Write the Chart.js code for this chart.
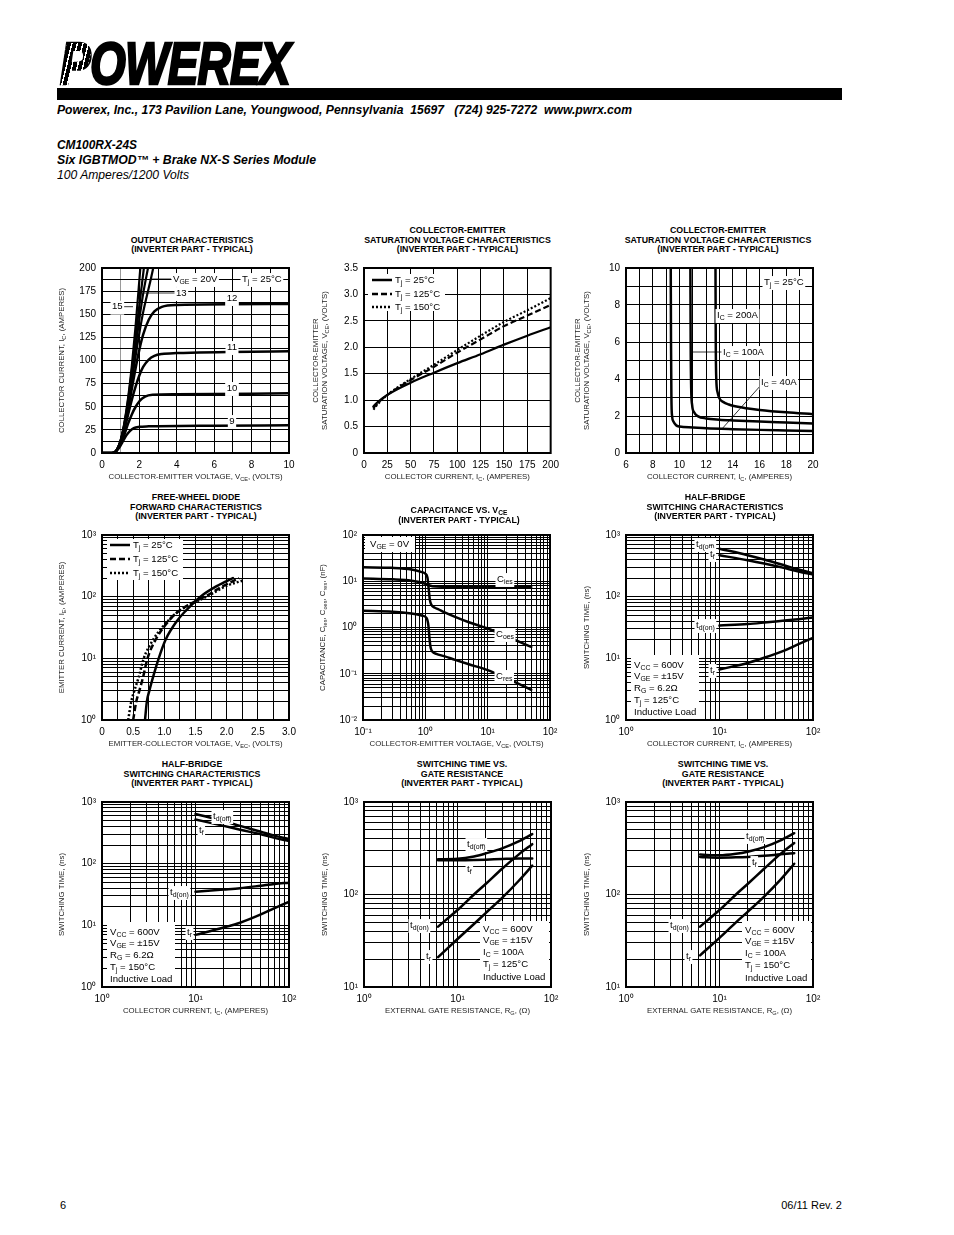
<!DOCTYPE html>
<html>
<head>
<meta charset="utf-8">
<script src="https://cdn.jsdelivr.net/npm/chart.js@4.4.0/dist/chart.umd.min.js"></script>
<style>
body{margin:0;width:954px;height:1235px;background:#fff;position:relative;overflow:hidden;font-family:"Liberation Sans",Arial,Helvetica,sans-serif;color:#000}
.abs{position:absolute;white-space:pre;display:inline-block;transform-origin:0 50%}
.ttl{position:absolute;font-weight:bold;font-size:8.8px;line-height:9.5px;text-align:center;white-space:nowrap;transform:translateX(-50%)}
.ttl sub{font-size:75%;vertical-align:-2px;line-height:0}
canvas{position:absolute}
</style>
</head>
<body>
<div id="logo" class="abs" style="left:60px;top:34px;font:italic bold 60px/60px 'Liberation Sans',Arial;-webkit-text-stroke:2.5px #000;letter-spacing:-1px">POWEREX</div>
<div class="abs" style="left:62px;top:43px;width:26px;height:43px;background:repeating-linear-gradient(90deg,transparent 0 4px,#fff 4px 5.5px);transform:skewX(-14deg)"></div>
<div class="abs" style="left:57px;top:88px;width:785px;height:12px;background:#000"></div>
<div id="addr" class="abs" style="left:57px;top:103px;font:italic bold 12px/14px 'Liberation Sans',Arial">Powerex, Inc., 173 Pavilion Lane, Youngwood, Pennsylvania  15697   (724) 925-7272  www.pwrx.com</div>
<div id="pn" class="abs" style="left:57px;top:138px;font:italic bold 12px/14px 'Liberation Sans',Arial">CM100RX-24S</div>
<div id="desc" class="abs" style="left:57px;top:153px;font:italic bold 12px/14px 'Liberation Sans',Arial">Six IGBTMOD™ + Brake NX-S Series Module</div>
<div id="rate" class="abs" style="left:57px;top:168px;font:italic 12px/14px 'Liberation Sans',Arial">100 Amperes/1200 Volts</div>
<div class="abs" style="left:60px;top:1198px;font:11px/14px 'Liberation Sans',Arial">6</div>
<div id="rev" class="abs" style="left:778px;top:1198px;font:11px/14px 'Liberation Sans',Arial">06/11 Rev. 2</div>

<script>
// ---- output characteristics, Tj = 25°C (VCE volts / IC amperes), one pair per VGE
const OC_V9  = [0,0.5,0.7,0.9,1.1,1.3,1.5,1.7,2,2.5,3,6,10]
const OC_I9  = [0,0,1,5,12,19,24,27,28.3,28.8,29,29.5,30]
const OC_V10 = [0,0.55,0.75,1,1.2,1.4,1.6,1.8,2,2.3,2.7,4,10]
const OC_I10 = [0,0,2,10,20,32,42,50,56,61,63,63.5,64.5]
const OC_V11 = [0,0.55,0.75,1,1.2,1.4,1.6,1.8,2,2.2,2.5,2.8,3.2,4,10]
const OC_I11 = [0,0,2,12,25,42,58,72,84,93,101,105,107,108,110]
const OC_V12 = [0,0.55,0.75,1,1.2,1.4,1.6,1.8,2,2.2,2.5,2.8,3.2,4,10]
const OC_I12 = [0,0,2,13,29,48,70,92,112,128,144,153,158,160,161]
const OC_V13 = [0,0.55,0.75,1,1.2,1.4,1.6,1.8,2,2.2,2.4,2.6,2.74]
const OC_I13 = [0,0,2,13,30,52,78,105,130,152,170,187,200]
const OC_V14 = [0,0.55,0.75,1,1.2,1.4,1.6,1.8,2,2.2,2.46]
const OC_I14 = [0,0,2,13,31,55,84,115,145,172,200]
const OC_V15 = [0,0.55,0.75,1,1.2,1.4,1.6,1.8,2,2.24]
const OC_I15 = [0,0,2,14,32,58,90,126,160,200]
const OC_V20 = [0,0.55,0.75,1,1.2,1.4,1.6,1.8,2.05]
const OC_I20 = [0,0,2,14,33,60,95,138,200]
const OC_XGRID = [0,1,2,3,4,5,6,7,8,9,10]
const OC_XLAB = [0,2,4,6,8,10]
const OC_YGRID = [0,12.5,25,37.5,50,62.5,75,87.5,100,112.5,125,137.5,150,162.5,175,187.5,200]
const OC_YLAB = [0,25,50,75,100,125,150,175,200]

// ---- VCE(sat) vs IC
const VS_IC   = [10,15,25,50,75,100,125,150,175,200]
const VS_V25  = [0.88,0.97,1.1,1.33,1.52,1.7,1.87,2.05,2.22,2.38]
const VS_V125 = [0.85,0.95,1.1,1.38,1.63,1.9,2.15,2.4,2.6,2.8]
const VS_V150 = [0.82,0.93,1.1,1.4,1.67,1.95,2.22,2.48,2.7,2.93]
const VS_XGRID = [0,25,50,75,100,125,150,175,200]
const VS_YGRID = [0,0.5,1,1.5,2,2.5,3,3.5]

// ---- VCE(sat) vs VGE, Tj = 25°C
const VG_X40  = [9.35,9.37,9.4,9.45,9.55,9.75,10,11,12,14,16,18,20]
const VG_V40  = [10,6,3,2,1.7,1.5,1.43,1.38,1.34,1.29,1.25,1.22,1.19]
const VG_X100 = [10.82,10.84,10.88,10.95,11.1,11.4,12,13,14,16,18,20]
const VG_V100 = [10,6,3.5,2.6,2.2,1.98,1.87,1.8,1.76,1.7,1.65,1.6]
const VG_X200 = [12.7,12.72,12.76,12.85,13,13.3,13.7,14,15,16,18,20]
const VG_V200 = [10,6,4,3.3,2.95,2.75,2.62,2.55,2.42,2.33,2.2,2.1]
const VG_XGRID = [6,7,8,9,10,11,12,13,14,15,16,17,18,19,20]
const VG_XLAB = [6,8,10,12,14,16,18,20]
const VG_YGRID = [0,1,2,3,4,5,6,7,8,9,10]
const VG_YLAB = [0,2,4,6,8,10]

// ---- free-wheel diode forward characteristics (VEC volts / IE amperes)
const FW_V25  = [0.69,0.72,0.76,0.82,0.91,1.02,1.2,1.35,1.58,1.85,2.1]
const FW_I25  = [1,2,3,5,10,20,40,60,100,150,200]
const FW_V125 = [0.5,0.55,0.6,0.66,0.73,0.86,1.02,1.2,1.4,1.65,1.95,2.2]
const FW_I125 = [1,2,3,5,10,20,35,55,75,100,150,200]
const FW_V150 = [0.42,0.47,0.52,0.59,0.67,0.82,1.0,1.2,1.42,1.68,2.0,2.28]
const FW_I150 = [1,2,3,5,10,20,35,55,75,100,150,185]
const FW_XGRID = [0,0.25,0.5,0.75,1,1.25,1.5,1.75,2,2.25,2.5,2.75,3]
const FW_XLAB = [0,0.5,1,1.5,2,2.5,3]
const FW_YLAB = [1,10,100,1000]

// ---- capacitance vs VCE (nF)
const CP_V_IES = [0.1,0.3,0.6,0.9,1.1,1.3,2,5,10,50]
const CP_IES   = [11.5,11,10.3,9.3,8.3,7.8,7.6,7.5,7.5,7.5]
const CP_V_OES = [0.1,0.3,0.6,0.85,1.0,1.08,1.13,1.18,1.25,1.4,1.6,2,3,5,10,20,50]
const CP_OES   = [20,19.5,18,16,14.5,12,7,4,3.1,2.7,2.5,2.15,1.7,1.3,0.95,0.65,0.38]
const CP_V_RES = [0.1,0.3,0.6,0.9,1.05,1.12,1.17,1.22,1.3,1.5,2,3,5,10,20,50]
const CP_RES   = [2.3,2.2,2.0,1.8,1.6,1.1,0.55,0.36,0.3,0.27,0.24,0.2,0.16,0.12,0.08,0.045]
const CP_XLAB = [0.1,1,10,100]
const CP_YLAB = [0.01,0.1,1,10,100]

// ---- half-bridge switching vs IC (ns)
const HB_IC = [10,20,30,50,70,100]
const HB125_TDOFF = [600,470,400,320,275,240]
const HB125_TF    = [470,390,345,290,255,228]
const HB125_TDON  = [34,36,38,41,43,46]
const HB125_TR    = [6.6,8.4,10.2,13.5,17,21.5]
const HB150_TDOFF = [640,490,410,330,285,250]
const HB150_TF    = [520,410,355,300,262,232]
const HB150_TDON  = [35,38,40,44,47,49]
const HB150_TR    = [7,9.2,11,15,19,24]
const HB_XLAB = [1,10,100]
const HB_YLAB = [1,10,100,1000]

// ---- switching vs gate resistance (ns)
const RG_R = [6.2,10,15,20,30,45,63]
const RG125_TDOFF = [240,243,258,278,315,375,450]
const RG125_TF    = [235,235,236,238,242,245,245]
const RG125_TDON  = [45,68,100,130,190,270,350]
const RG125_TR    = [21,33,48,63,92,140,205]
const RG150_TDOFF = [270,265,275,290,325,385,460]
const RG150_TF    = [255,250,252,255,262,272,280]
const RG150_TDON  = [45,68,100,130,190,275,360]
const RG150_TR    = [22,34,50,65,95,145,215]
const RG_XLAB = [1,10,100]
const RG_YLAB = [10,100,1000]

const FAM = '"Liberation Sans", Arial, Helvetica, sans-serif'
const DASH = [6,3], DOT = [2,2]
const NOTE = 9.6, AXT = 7.8
const SUP = {'0':'⁰','1':'¹','2':'²','3':'³','-':'⁻'}
const pow10 = v => '10' + String(Math.round(Math.log10(v))).split('').map(c=>SUP[c]).join('')
const num = v => String(v)
const dec1 = v => v===0 ? '0' : v.toFixed(1)

function decades(min, max) {
  const t = []
  for (let e=Math.round(Math.log10(min)); e<=Math.round(Math.log10(max)); e++)
    for (let m=1; m<=9; m++) { const v = +(m*Math.pow(10,e)).toPrecision(6); if (v>=min && v<=max) t.push(v) }
  return t
}

function axis(type, grid, labels, fmt, more) {
  return Object.assign({
    type, min:grid[0], max:grid[grid.length-1],
    afterBuildTicks: s => { s.ticks = grid.map(v => ({value:v})) },
    ticks:{autoSkip:false, maxRotation:0, minRotation:0, padding:6, color:'#000', font:{family:FAM,size:10},
      callback: v => labels.some(l => Math.abs(l-v) <= 1e-9*Math.max(1,Math.abs(l))) ? fmt(v) : ''},
    grid:{color:'#000', lineWidth:1, drawTicks:false},
    border:{display:false}
  }, more||{})
}

const line = (xs, ys, dash, w) => ({
  data: xs.map((x,i) => ({x, y:ys[i]})),
  borderColor:'#000', borderWidth:w||2.5, borderDash:dash||[], pointRadius:0,
  cubicInterpolationMode:'monotone', fill:false, borderCapStyle:dash?'butt':'round', borderJoinStyle:'round'
})

// text with _{sub} and ^{sup} parts
function rich(ctx, s, x, y, size, align, bg, color) {
  const segs = []; const re = /([_^])\{([^}]*)\}/g; let last = 0, m
  while ((m = re.exec(s))) {
    if (m.index > last) segs.push({t:s.slice(last, m.index), k:0})
    segs.push({t:m[2], k:m[1]==='_' ? -1 : 1}); last = re.lastIndex
  }
  if (last < s.length) segs.push({t:s.slice(last), k:0})
  let w = 0
  segs.forEach(g => { ctx.font = (g.k ? size*0.72 : size) + 'px ' + FAM; g.w = ctx.measureText(g.t).width; w += g.w })
  let x0 = align==='center' ? x-w/2 : align==='right' ? x-w : x
  if (bg) { ctx.fillStyle = '#fff'; ctx.fillRect(x0-1.5, y-size*0.62, w+3, size*1.45) }
  ctx.fillStyle = color || '#000'; ctx.textBaseline = 'middle'; ctx.textAlign = 'left'
  segs.forEach(g => {
    ctx.font = (g.k ? size*0.72 : size) + 'px ' + FAM
    ctx.fillText(g.t, x0, y + (g.k===-1 ? size*0.32 : g.k===1 ? -size*0.35 : 0)); x0 += g.w
  })
}

function notes(c) {
  return {id:'notes', afterDatasetsDraw(chart) {
    const {ctx, chartArea:a} = chart
    ctx.save()
    ;(c.boxes||[]).forEach(b => { ctx.fillStyle='#fff'; ctx.fillRect(a.left+b[0], a.top+b[1], b[2], b[3]) })
    ctx.strokeStyle = '#000'
    ;(c.keys||[]).forEach(k => {
      ctx.lineWidth = 2.5; ctx.setLineDash(k[3]||[]); ctx.beginPath()
      ctx.moveTo(a.left+k[0], a.top+k[2]); ctx.lineTo(a.left+k[1], a.top+k[2]); ctx.stroke()
    })
    ctx.setLineDash([])
    ;(c.leaders||[]).forEach(l => {
      ctx.lineWidth = 0.8; ctx.beginPath(); ctx.moveTo(a.left+l[0], a.top+l[1]); ctx.lineTo(a.left+l[2], a.top+l[3]); ctx.stroke()
    })
    ;(c.labels||[]).forEach(t => rich(ctx, t[0], a.left+t[1], a.top+t[2], NOTE, t[3]||'left', t[4]))
    ctx.lineWidth = 2; ctx.strokeStyle = '#000'
    ctx.strokeRect(a.left, a.top, a.right-a.left, a.bottom-a.top)
    const cx = (a.left+a.right)/2, cy = (a.top+a.bottom)/2
    rich(ctx, c.xTitle, cx, a.bottom+24, AXT, 'center', false, '#222')
    c.yTitle.forEach((s,i) => {
      ctx.save(); ctx.translate(a.left+c.yTitleX[i], cy); ctx.rotate(-Math.PI/2)
      rich(ctx, s, 0, 0, AXT, 'center', false, '#222'); ctx.restore()
    })
    ctx.restore()
  }}
}

function makeChart(c) {
  const cv = document.createElement('canvas')
  cv.width = 257; cv.height = 229
  cv.style.left = (c.left-56)+'px'; cv.style.top = (c.top-10)+'px'
  document.body.appendChild(cv)
  const t = document.createElement('div')
  t.className = 'ttl'; t.innerHTML = c.title.join('<br>')
  if (c.tlh) t.style.lineHeight = c.tlh+'px'
  t.style.left = c.tcx+'px'
  t.style.top = (c.top - (c.tgap||11.5) - c.title.length*(c.tlh||9.5))+'px'
  document.body.appendChild(t)
  new Chart(cv, {
    type:'line',
    data:{datasets:c.sets},
    options:{
      responsive:false, animation:false, events:[],
      layout:{padding:{left:0, top:10, right:14, bottom:0}},
      plugins:{legend:{display:false}, tooltip:{enabled:false}},
      scales:{
        x:Object.assign(c.x, {position:'bottom', afterFit:s => { s.height = 32 }}),
        y:Object.assign(c.y, {position:'left', afterFit:s => { s.width = 56 }})
      }
    },
    plugins:[notes(c)]
  })
}

const INV = '(INVERTER PART - TYPICAL)'
const SW_Y = ['SWITCHING TIME, (ns)']

makeChart({
  left:102, top:266, tcx:192, title:['OUTPUT CHARACTERISTICS', INV],
  x:axis('linear', OC_XGRID, OC_XLAB, num, {grid:{drawTicks:false, lineWidth:1, color:c => c.tick && c.tick.value===1 ? '#9a9a9a' : '#000'}}),
  y:axis('linear', OC_YGRID, OC_YLAB, num),
  sets:[line(OC_V9,OC_I9), line(OC_V10,OC_I10), line(OC_V11,OC_I11), line(OC_V12,OC_I12),
        line(OC_V13,OC_I13,null,2.2), line(OC_V14,OC_I14,null,2.2), line(OC_V15,OC_I15,null,2.2), line(OC_V20,OC_I20,null,2.2)],
  xTitle:'COLLECTOR-EMITTER VOLTAGE, V_{CE}, (VOLTS)', yTitle:['COLLECTOR CURRENT, I_{C}, (AMPERES)'], yTitleX:[-40],
  leaders:[[48,11,69,11],[41,25,73,25],[20,38.7,31,38.7]],
  labels:[['V_{GE} = 20V',71,11,'left',true],['T_{j} = 25°C',140,11,'left',true],['13',74,25,'left',true],['15',10,38.7,'left',true],
          ['12',130,30,'center',true],['11',130,79,'center',true],['10',130,120,'center',true],['9',130,153,'center',true]]
})

makeChart({
  left:364, top:266, tcx:457.5, title:['COLLECTOR-EMITTER','SATURATION VOLTAGE CHARACTERISTICS', INV],
  x:axis('linear', VS_XGRID, VS_XGRID, num),
  y:axis('linear', VS_YGRID, VS_YGRID, dec1),
  sets:[line(VS_IC,VS_V25,null,2.2), line(VS_IC,VS_V125,DASH,2.2), line(VS_IC,VS_V150,DOT,2.2)],
  xTitle:'COLLECTOR CURRENT, I_{C}, (AMPERES)', yTitle:['COLLECTOR-EMITTER','SATURATION VOLTAGE, V_{CE}, (VOLTS)'], yTitleX:[-48,-39],
  boxes:[[4,6,77,37]],
  keys:[[8,28,12],[8,28,26,DASH],[8,28,39,DOT]],
  labels:[['T_{j} = 25°C',31,12],['T_{j} = 125°C',31,26],['T_{j} = 150°C',31,39]]
})

makeChart({
  left:626, top:266, tcx:718, title:['COLLECTOR-EMITTER','SATURATION VOLTAGE CHARACTERISTICS', INV],
  x:axis('linear', VG_XGRID, VG_XLAB, num),
  y:axis('linear', VG_YGRID, VG_YLAB, num),
  sets:[line(VG_X40,VG_V40), line(VG_X100,VG_V100), line(VG_X200,VG_V200)],
  xTitle:'COLLECTOR CURRENT, I_{C}, (AMPERES)', yTitle:['COLLECTOR-EMITTER','SATURATION VOLTAGE, V_{CE}, (VOLTS)'], yTitleX:[-48,-39],
  leaders:[[66,84,96,84],[135,117,95,162]],
  labels:[['T_{j} = 25°C',138,14,'left',true],['I_{C} = 200A',91,47,'left',true],['I_{C} = 100A',97,84,'left',true],['I_{C} = 40A',135,114,'left',true]]
})

makeChart({
  left:102, top:533, tcx:196, title:['FREE-WHEEL DIODE','FORWARD CHARACTERISTICS', INV],
  x:axis('linear', FW_XGRID, FW_XLAB, dec1),
  y:axis('logarithmic', decades(1,1000), FW_YLAB, pow10),
  sets:[line(FW_V25,FW_I25,null,2.5), line(FW_V125,FW_I125,DASH,2.5), line(FW_V150,FW_I150,DOT,2.5)],
  xTitle:'EMITTER-COLLECTOR VOLTAGE, V_{EC}, (VOLTS)', yTitle:['EMITTER CURRENT, I_{E}, (AMPERES)'], yTitleX:[-40],
  boxes:[[5,4,76,41]],
  keys:[[8,28,10],[8,28,24,DASH],[8,28,38,DOT]],
  labels:[['T_{j} = 25°C',31,10],['T_{j} = 125°C',31,24],['T_{j} = 150°C',31,38]]
})

makeChart({
  left:363, top:533, tcx:459, title:['CAPACITANCE VS. V<sub>CE</sub>', INV], tlh:10.5, tgap:7.5,
  x:axis('logarithmic', decades(0.1,100), CP_XLAB, pow10),
  y:axis('logarithmic', decades(0.01,100), CP_YLAB, pow10),
  sets:[line(CP_V_IES,CP_IES), line(CP_V_OES,CP_OES), line(CP_V_RES,CP_RES)],
  xTitle:'COLLECTOR-EMITTER VOLTAGE, V_{CE}, (VOLTS)', yTitle:['CAPACITANCE, C_{ies}, C_{oes}, C_{res}, (nF)'], yTitleX:[-40],
  boxes:[[2,2,50,15]],
  labels:[['V_{GE} = 0V',7,9],['C_{ies}',134,44,'left',true],['C_{oes}',133,99,'left',true],['C_{res}',133,141,'left',true]]
})

makeChart({
  left:626, top:533, tcx:715, title:['HALF-BRIDGE','SWITCHING CHARACTERISTICS', INV],
  x:axis('logarithmic', decades(1,100), HB_XLAB, pow10),
  y:axis('logarithmic', decades(1,1000), HB_YLAB, pow10),
  sets:[line(HB_IC,HB125_TDOFF), line(HB_IC,HB125_TF), line(HB_IC,HB125_TDON), line(HB_IC,HB125_TR)],
  xTitle:'COLLECTOR CURRENT, I_{C}, (AMPERES)', yTitle:SW_Y, yTitleX:[-39],
  boxes:[[5,120,68,66]],
  labels:[['t_{d(off)}',70,9,'left',true],['t_{f}',84,19,'left',true],['t_{d(on)}',70,90,'left',true],['t_{r}',84,135,'left',true],
          ['V_{CC} = 600V',8,130],['V_{GE} = ±15V',8,141.5],['R_{G} = 6.2Ω',8,153],['T_{j} = 125°C',8,165],['Inductive Load',8,177]]
})

makeChart({
  left:102, top:800, tcx:192, title:['HALF-BRIDGE','SWITCHING CHARACTERISTICS', INV],
  x:axis('logarithmic', decades(1,100), HB_XLAB, pow10),
  y:axis('logarithmic', decades(1,1000), HB_YLAB, pow10),
  sets:[line(HB_IC,HB150_TDOFF), line(HB_IC,HB150_TF), line(HB_IC,HB150_TDON), line(HB_IC,HB150_TR)],
  xTitle:'COLLECTOR CURRENT, I_{C}, (AMPERES)', yTitle:SW_Y, yTitleX:[-40],
  boxes:[[5,120,68,66]],
  labels:[['t_{d(off)}',111,14,'left',true],['t_{f}',97,28,'left',true],['t_{d(on)}',68,90,'left',true],['t_{r}',85,130,'left',true],
          ['V_{CC} = 600V',8,130],['V_{GE} = ±15V',8,141.5],['R_{G} = 6.2Ω',8,153],['T_{j} = 150°C',8,165],['Inductive Load',8,177]]
})

makeChart({
  left:364, top:800, tcx:462, title:['SWITCHING TIME VS.','GATE RESISTANCE', INV],
  x:axis('logarithmic', decades(1,100), RG_XLAB, pow10),
  y:axis('logarithmic', decades(10,1000), RG_YLAB, pow10),
  sets:[line(RG_R,RG125_TDOFF), line(RG_R,RG125_TF), line(RG_R,RG125_TDON), line(RG_R,RG125_TR)],
  xTitle:'EXTERNAL GATE RESISTANCE, R_{G}, (Ω)', yTitle:SW_Y, yTitleX:[-39],
  boxes:[[116,119,69,67]],
  labels:[['t_{d(off)}',103,42,'left',true],['t_{f}',103,67,'left',true],['t_{d(on)}',46,123,'left',true],['t_{r}',62,154,'left',true],
          ['V_{CC} = 600V',119,127],['V_{GE} = ±15V',119,138.5],['I_{C} = 100A',119,150],['T_{j} = 125°C',119,162],['Inductive Load',119,175]]
})

makeChart({
  left:626, top:800, tcx:723, title:['SWITCHING TIME VS.','GATE RESISTANCE', INV],
  x:axis('logarithmic', decades(1,100), RG_XLAB, pow10),
  y:axis('logarithmic', decades(10,1000), RG_YLAB, pow10),
  sets:[line(RG_R,RG150_TDOFF), line(RG_R,RG150_TF), line(RG_R,RG150_TDON), line(RG_R,RG150_TR)],
  xTitle:'EXTERNAL GATE RESISTANCE, R_{G}, (Ω)', yTitle:SW_Y, yTitleX:[-39],
  boxes:[[116,119,69,67]],
  labels:[['t_{d(off)}',120,34,'left',true],['t_{f}',126,60,'left',true],['t_{d(on)}',44,123,'left',true],['t_{r}',60,154,'left',true],
          ['V_{CC} = 600V',119,128],['V_{GE} = ±15V',119,139.5],['I_{C} = 100A',119,151],['T_{j} = 150°C',119,163],['Inductive Load',119,176]]
})

// squeeze header lines to the widths they have on the page
function fit(id, w) {
  const el = document.getElementById(id)
  el.style.transform = 'scaleX(' + (w / el.getBoundingClientRect().width) + ')'
}
fit('logo', 230); fit('addr', 575); fit('pn', 80); fit('desc', 259); fit('rate', 132)
const rev = document.getElementById('rev'); rev.style.left = (842 - rev.getBoundingClientRect().width) + 'px'
</script>
</body>
</html>
